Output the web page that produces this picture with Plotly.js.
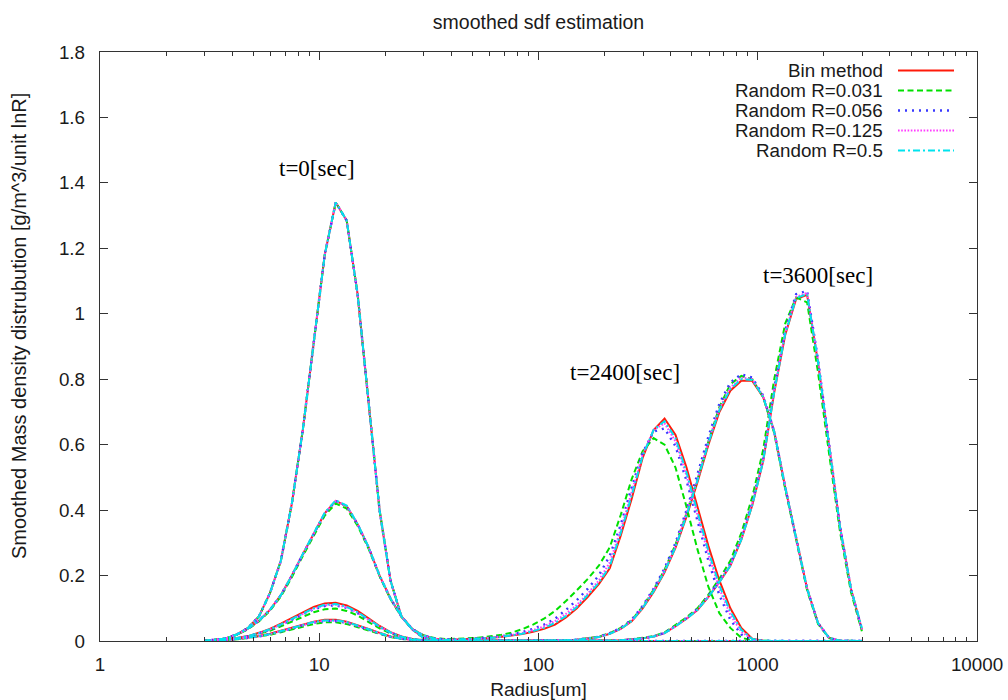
<!DOCTYPE html>
<html>
<head>
<meta charset="utf-8">
<script src="https://cdn.plot.ly/plotly-3.0.1.min.js"></script>
<style>html,body{margin:0;padding:0;background:#fff;}#chart{width:1008px;height:700px;}</style>
</head>
<body>
<div id="chart"></div>
<script>
// Radius grid [um]
const radius = [2.985, 3.350, 3.758, 4.217, 4.732, 5.309, 5.957, 6.683, 7.499, 8.414,
  9.441, 10.59, 11.89, 13.34, 14.96, 16.79, 18.84, 21.13, 23.71, 26.61,
  29.85, 33.50, 37.58, 42.17, 47.32, 53.09, 59.57, 66.83, 74.99, 84.14,
  94.41, 105.9, 118.9, 133.4, 149.6, 167.9, 188.4, 211.3, 237.1, 266.1,
  298.5, 335.0, 375.8, 421.7, 473.2, 530.9, 595.7, 668.3, 749.9, 841.4,
  944.1, 1059, 1189, 1334, 1496, 1679, 1884, 2113, 2371, 2661, 2985];

// t = 0 sec (all methods coincide)
const t0 = [0, 0.003, 0.008, 0.02, 0.04, 0.075, 0.146, 0.245, 0.42, 0.645,
  0.92, 1.18, 1.34, 1.285, 1.06, 0.73, 0.40, 0.185, 0.075, 0.035,
  0.01, 0.003, 0, 0, 0, 0, 0, 0, 0, 0,
  0, 0, 0, 0, 0, 0, 0, 0, 0, 0,
  0, 0, 0, 0, 0, 0, 0, 0, 0, 0,
  0, 0, 0, 0, 0, 0, 0, 0, 0, 0, 0];

// t = 2400 sec
const bin_t2400 = [0, 0.003, 0.008, 0.02, 0.038, 0.062, 0.095, 0.14, 0.20, 0.265,
  0.33, 0.39, 0.428, 0.412, 0.357, 0.286, 0.20, 0.13, 0.075, 0.036,
  0.017, 0.007, 0.003, 0.004, 0.005, 0.007, 0.009, 0.012, 0.016, 0.021,
  0.028, 0.037, 0.05, 0.072, 0.10, 0.135, 0.174, 0.222, 0.322, 0.435,
  0.56, 0.645, 0.68, 0.63, 0.53, 0.41, 0.29, 0.185, 0.10, 0.04,
  0.007, 0.001, 0, 0, 0, 0, 0, 0, 0, 0, 0];
const r031_t2400 = [0, 0.003, 0.008, 0.019, 0.036, 0.06, 0.092, 0.136, 0.195, 0.26,
  0.324, 0.383, 0.42, 0.405, 0.352, 0.282, 0.198, 0.128, 0.074, 0.036,
  0.018, 0.009, 0.006, 0.006, 0.008, 0.010, 0.013, 0.018, 0.025, 0.036,
  0.05, 0.068, 0.092, 0.122, 0.155, 0.19, 0.23, 0.286, 0.385, 0.495,
  0.58, 0.62, 0.60, 0.53, 0.41, 0.28, 0.165, 0.085, 0.04, 0.01,
  0.002, 0, 0, 0, 0, 0, 0, 0, 0, 0, 0];
const r056_t2400 = [0, 0.003, 0.008, 0.02, 0.038, 0.062, 0.095, 0.14, 0.20, 0.265,
  0.33, 0.39, 0.428, 0.412, 0.357, 0.286, 0.20, 0.13, 0.075, 0.036,
  0.017, 0.008, 0.005, 0.005, 0.006, 0.008, 0.010, 0.014, 0.02, 0.027,
  0.037, 0.05, 0.068, 0.095, 0.125, 0.16, 0.20, 0.26, 0.355, 0.47,
  0.575, 0.64, 0.65, 0.595, 0.49, 0.365, 0.245, 0.14, 0.065, 0.02,
  0.004, 0, 0, 0, 0, 0, 0, 0, 0, 0, 0];
const r125_t2400 = [0, 0.003, 0.008, 0.02, 0.038, 0.062, 0.095, 0.14, 0.20, 0.265,
  0.33, 0.39, 0.428, 0.412, 0.357, 0.286, 0.20, 0.13, 0.075, 0.036,
  0.017, 0.007, 0.004, 0.004, 0.005, 0.007, 0.009, 0.013, 0.018, 0.024,
  0.033, 0.045, 0.061, 0.083, 0.11, 0.145, 0.185, 0.24, 0.34, 0.455,
  0.57, 0.645, 0.665, 0.61, 0.505, 0.385, 0.265, 0.16, 0.08, 0.028,
  0.005, 0, 0, 0, 0, 0, 0, 0, 0, 0, 0];
const r5_t2400 = [0, 0.003, 0.008, 0.02, 0.038, 0.062, 0.095, 0.14, 0.20, 0.266,
  0.331, 0.392, 0.43, 0.414, 0.358, 0.287, 0.20, 0.13, 0.075, 0.036,
  0.017, 0.007, 0.003, 0.004, 0.005, 0.007, 0.009, 0.012, 0.017, 0.022,
  0.030, 0.04, 0.055, 0.076, 0.104, 0.14, 0.178, 0.228, 0.33, 0.445,
  0.565, 0.645, 0.672, 0.62, 0.515, 0.395, 0.275, 0.17, 0.09, 0.034,
  0.006, 0.001, 0, 0, 0, 0, 0, 0, 0, 0, 0];

// t = 3000 sec
const bin_t3000 = [0, 0.002, 0.005, 0.009, 0.015, 0.025, 0.037, 0.053, 0.07, 0.088,
  0.104, 0.115, 0.117, 0.109, 0.092, 0.069, 0.046, 0.027, 0.014, 0.006,
  0.002, 0.001, 0.001, 0.001, 0.001, 0.001, 0.001, 0.001, 0.001, 0.001,
  0.001, 0.001, 0.001, 0.002, 0.004, 0.007, 0.012, 0.022, 0.037, 0.06,
  0.10, 0.15, 0.21, 0.285, 0.38, 0.485, 0.60, 0.70, 0.765, 0.795,
  0.795, 0.745, 0.64, 0.47, 0.31, 0.16, 0.055, 0.01, 0.001, 0, 0];
const r031_t3000 = [0, 0.002, 0.004, 0.008, 0.013, 0.021, 0.031, 0.045, 0.059, 0.074,
  0.088, 0.097, 0.099, 0.092, 0.078, 0.058, 0.039, 0.023, 0.012, 0.005,
  0.002, 0.001, 0.001, 0.001, 0.001, 0.001, 0.001, 0.001, 0.001, 0.001,
  0.001, 0.001, 0.001, 0.002, 0.004, 0.008, 0.013, 0.024, 0.04, 0.064,
  0.105, 0.157, 0.218, 0.295, 0.39, 0.495, 0.61, 0.715, 0.785, 0.81,
  0.80, 0.745, 0.635, 0.465, 0.305, 0.155, 0.052, 0.009, 0.001, 0, 0];
const r056_t3000 = [0, 0.002, 0.005, 0.008, 0.014, 0.023, 0.034, 0.049, 0.065, 0.082,
  0.097, 0.107, 0.109, 0.101, 0.085, 0.064, 0.043, 0.025, 0.013, 0.006,
  0.002, 0.001, 0.001, 0.001, 0.001, 0.001, 0.001, 0.001, 0.001, 0.001,
  0.001, 0.001, 0.001, 0.002, 0.004, 0.008, 0.013, 0.024, 0.04, 0.065,
  0.107, 0.16, 0.222, 0.30, 0.40, 0.51, 0.625, 0.725, 0.79, 0.815,
  0.805, 0.75, 0.64, 0.47, 0.31, 0.16, 0.055, 0.01, 0.001, 0, 0];
const r125_t3000 = [0, 0.002, 0.005, 0.009, 0.014, 0.023, 0.035, 0.05, 0.066, 0.083,
  0.099, 0.109, 0.111, 0.103, 0.087, 0.065, 0.044, 0.026, 0.013, 0.006,
  0.002, 0.001, 0.001, 0.001, 0.001, 0.001, 0.001, 0.001, 0.001, 0.001,
  0.001, 0.001, 0.001, 0.002, 0.004, 0.007, 0.012, 0.023, 0.038, 0.062,
  0.103, 0.155, 0.215, 0.29, 0.39, 0.495, 0.61, 0.71, 0.775, 0.805,
  0.80, 0.748, 0.64, 0.47, 0.31, 0.16, 0.055, 0.01, 0.001, 0, 0];
const r5_t3000 = [0, 0.002, 0.005, 0.009, 0.015, 0.024, 0.036, 0.051, 0.067, 0.085,
  0.10, 0.111, 0.113, 0.105, 0.088, 0.066, 0.044, 0.026, 0.013, 0.006,
  0.002, 0.001, 0.001, 0.001, 0.001, 0.001, 0.001, 0.001, 0.001, 0.001,
  0.001, 0.001, 0.001, 0.002, 0.004, 0.007, 0.012, 0.022, 0.037, 0.061,
  0.101, 0.152, 0.212, 0.287, 0.383, 0.49, 0.605, 0.705, 0.77, 0.80,
  0.798, 0.746, 0.64, 0.47, 0.31, 0.16, 0.055, 0.01, 0.001, 0, 0];

// t = 3600 sec
const bin_t3600 = [0, 0.001, 0.003, 0.006, 0.01, 0.015, 0.022, 0.031, 0.041, 0.051,
  0.059, 0.065, 0.065, 0.059, 0.049, 0.037, 0.025, 0.014, 0.007, 0.003,
  0.001, 0, 0, 0, 0, 0, 0, 0, 0, 0,
  0.001, 0.001, 0.001, 0.001, 0.001, 0.001, 0.001, 0.001, 0.002, 0.005,
  0.008, 0.014, 0.024, 0.045, 0.068, 0.095, 0.135, 0.18, 0.23, 0.31,
  0.415, 0.55, 0.76, 0.935, 1.045, 1.058, 0.85, 0.60, 0.35, 0.16, 0.035];
const r031_t3600 = [0, 0.001, 0.003, 0.005, 0.009, 0.013, 0.019, 0.027, 0.036, 0.045,
  0.052, 0.057, 0.057, 0.052, 0.043, 0.032, 0.022, 0.012, 0.006, 0.003,
  0.001, 0, 0, 0, 0, 0, 0, 0, 0, 0,
  0.001, 0.001, 0.001, 0.001, 0.001, 0.001, 0.001, 0.001, 0.002, 0.005,
  0.009, 0.015, 0.026, 0.048, 0.072, 0.10, 0.142, 0.19, 0.245, 0.33,
  0.44, 0.585, 0.80, 0.97, 1.05, 1.035, 0.82, 0.575, 0.335, 0.15, 0.03];
const r056_t3600 = [0, 0.001, 0.003, 0.006, 0.009, 0.014, 0.021, 0.029, 0.038, 0.048,
  0.056, 0.061, 0.061, 0.056, 0.046, 0.035, 0.023, 0.013, 0.007, 0.003,
  0.001, 0, 0, 0, 0, 0, 0, 0, 0, 0,
  0.001, 0.001, 0.001, 0.001, 0.001, 0.001, 0.001, 0.001, 0.002, 0.005,
  0.008, 0.014, 0.025, 0.046, 0.07, 0.098, 0.138, 0.185, 0.236, 0.318,
  0.425, 0.56, 0.775, 0.95, 1.06, 1.07, 0.86, 0.605, 0.352, 0.16, 0.035];
const r125_t3600 = [0, 0.001, 0.003, 0.006, 0.01, 0.014, 0.021, 0.03, 0.039, 0.049,
  0.057, 0.062, 0.062, 0.057, 0.047, 0.035, 0.024, 0.013, 0.007, 0.003,
  0.001, 0, 0, 0, 0, 0, 0, 0, 0, 0,
  0.001, 0.001, 0.001, 0.001, 0.001, 0.001, 0.001, 0.001, 0.002, 0.005,
  0.008, 0.014, 0.024, 0.045, 0.069, 0.096, 0.136, 0.182, 0.232, 0.313,
  0.42, 0.555, 0.768, 0.942, 1.052, 1.064, 0.855, 0.602, 0.35, 0.16, 0.035];
const r5_t3600 = [0, 0.001, 0.003, 0.006, 0.01, 0.015, 0.021, 0.03, 0.04, 0.05,
  0.058, 0.063, 0.063, 0.058, 0.048, 0.036, 0.024, 0.014, 0.007, 0.003,
  0.001, 0, 0, 0, 0, 0, 0, 0, 0, 0,
  0.001, 0.001, 0.001, 0.001, 0.001, 0.001, 0.001, 0.001, 0.002, 0.005,
  0.008, 0.014, 0.024, 0.045, 0.068, 0.095, 0.135, 0.18, 0.23, 0.31,
  0.415, 0.55, 0.762, 0.938, 1.048, 1.06, 0.852, 0.60, 0.35, 0.16, 0.04];

const seriesNames = ['Bin method', 'Random R=0.031', 'Random R=0.056', 'Random R=0.125', 'Random R=0.5'];
const seriesSnapshots = [
  [t0, bin_t2400, bin_t3000, bin_t3600],
  [t0, r031_t2400, r031_t3000, r031_t3600],
  [t0, r056_t2400, r056_t3000, r056_t3600],
  [t0, r125_t2400, r125_t3000, r125_t3600],
  [t0, r5_t2400, r5_t3000, r5_t3600]
];
const timeLabels = ['t=0[sec]', 't=2400[sec]', 't=3600[sec]'];
const xTicks = [1, 10, 100, 1000, 10000];
const xMinor = [2,3,4,5,6,7,8,9,20,30,40,50,60,70,80,90,200,300,400,500,600,700,800,900,2000,3000,4000,5000,6000,7000,8000,9000];
const titleText = 'smoothed sdf estimation';
const xTitle = 'Radius[um]';
const yTitle = 'Smoothed Mass density distrubution [g/m^3/unit lnR]';

// styles
const styles = [
  {color: '#ff1a0a', dash: 'solid', width: 2},
  {color: '#00e000', dash: '6px,3.5px', width: 2},
  {color: '#3a3aff', dash: '2px,5px', width: 2.4},
  {color: '#ff3cff', dash: '1.6px,1.6px', width: 2},
  {color: '#00e3ee', dash: '7px,3px,2px,3px', width: 2}
];

const traces = seriesNames.map((name, i) => {
  let xs = [], ys = [];
  seriesSnapshots[i].forEach((snap, j) => {
    if (j > 0) { xs.push(null); ys.push(null); }
    xs = xs.concat(radius); ys = ys.concat(snap);
  });
  return {x: xs, y: ys, name: name, type: 'scatter', mode: 'lines',
    connectgaps: false, showlegend: false, line: styles[i]};
});

// plot area in pixels
const L = 100, T = 52, W = 877, H = 589;
const px = v => (v - L) / W;
const py = v => (T + H - v) / H;

const font = 'Liberation Sans, Arial, Helvetica, sans-serif';
const annotations = [];
const shapes = [];
seriesNames.forEach((name, i) => {
  const yy = 70.5 + 20 * i;
  annotations.push({xref: 'paper', yref: 'paper', x: px(884), y: py(yy), xanchor: 'right', yanchor: 'middle',
    text: name, showarrow: false, borderpad: 0, font: {family: font, size: 18.8, color: '#1a1a1a'}});
  shapes.push({type: 'line', xref: 'paper', yref: 'paper', x0: px(898), x1: px(954), y0: py(yy), y1: py(yy),
    line: {color: styles[i].color, dash: styles[i].dash, width: styles[i].width}});
});
const labelPos = [[317, 168], [625, 373], [818, 275]];
timeLabels.forEach((t, i) => {
  annotations.push({xref: 'paper', yref: 'paper', x: px(labelPos[i][0]), y: py(labelPos[i][1]),
    xanchor: 'center', yanchor: 'middle', text: t, showarrow: false,
    font: {family: 'Liberation Serif, Times New Roman, serif', size: 23, color: '#000'}});
});
// y axis label (placed like the original, slightly above plot centre)
annotations.push({xref: 'paper', yref: 'paper', x: px(19), y: py(326), xanchor: 'center', yanchor: 'middle',
  textangle: -90, text: yTitle, showarrow: false, font: {family: font, size: 20, color: '#1a1a1a'}});

const layout = {
  width: 1008, height: 700,
  margin: {l: L, r: 1008 - L - W, t: T, b: 700 - T - H, pad: 0},
  paper_bgcolor: '#fff', plot_bgcolor: '#fff',
  font: {family: font, size: 18, color: '#1a1a1a'},
  title: {text: titleText, x: 538.5 / 1008, xanchor: 'center', xref: 'container',
    y: 1 - 22 / 700, yanchor: 'middle', yref: 'container', font: {family: font, size: 19.5, color: '#1a1a1a'}},
  xaxis: {
    type: 'log', range: [0, 4], tickmode: 'array', tickvals: xTicks, ticktext: xTicks.map(String),
    ticks: 'inside', ticklen: 8, tickwidth: 1, tickcolor: '#333',
    showline: true, linecolor: '#333', linewidth: 1.2, mirror: 'ticks',
    showgrid: false, zeroline: false, automargin: false,
    minor: {tickmode: 'array', tickvals: xMinor, ticks: 'inside', ticklen: 4, tickwidth: 1, tickcolor: '#333', showgrid: false},
    tickfont: {family: font, size: 18.8, color: '#1a1a1a'}, ticklabelstandoff: 6,
    title: {text: xTitle, font: {family: font, size: 19.1, color: '#1a1a1a'}, standoff: 11}
  },
  yaxis: {
    range: [0, 1.8], tickmode: 'linear', tick0: 0, dtick: 0.2,
    ticks: 'inside', ticklen: 8, tickwidth: 1, tickcolor: '#333',
    showline: true, linecolor: '#333', linewidth: 1.2, mirror: 'ticks',
    showgrid: false, zeroline: false, automargin: false,
    tickfont: {family: font, size: 18.8, color: '#1a1a1a'}, ticklabelstandoff: 10
  },
  annotations: annotations,
  shapes: shapes,
  showlegend: false
};

Plotly.newPlot('chart', traces, layout, {displayModeBar: false, staticPlot: true});
</script>
</body>
</html>
